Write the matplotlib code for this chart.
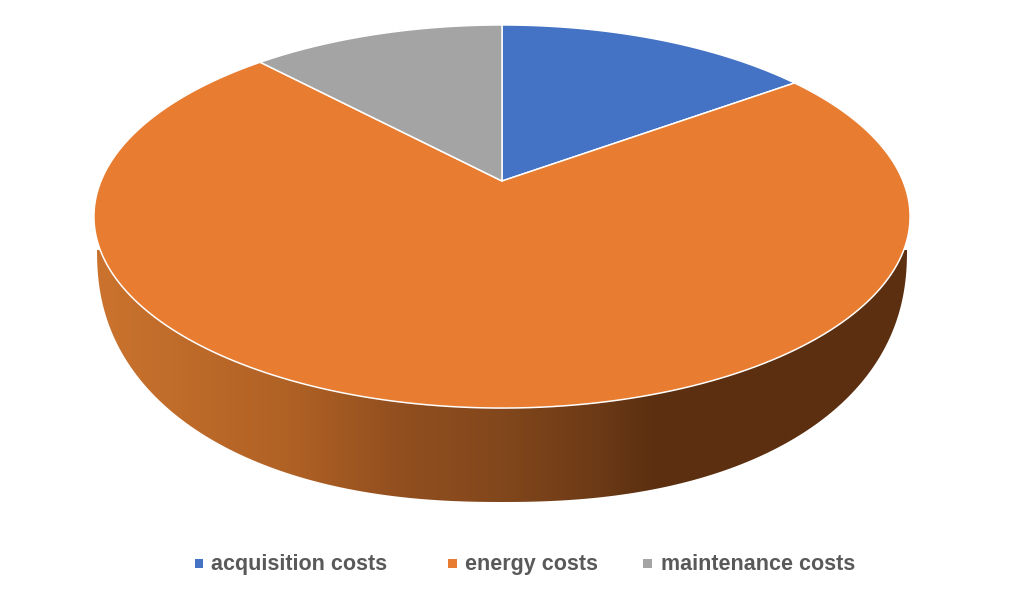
"""3D 饼图复刻：成本构成（透视椭圆 + 侧面渐变）"""

import numpy as np
import matplotlib

matplotlib.use("Agg")
import matplotlib.pyplot as plt
from matplotlib.colors import LinearSegmentedColormap
from matplotlib.patches import Polygon, Rectangle

categories = ["acquisition costs", "energy costs", "maintenance costs"]
shares = [15, 73, 12]
colors = ["#4472C4", "#E87C30", "#A4A4A4"]

# 图例位置（像素）：色块左边、文字左边
legend_box_x = [194.5, 448, 643]
legend_text_x = [211, 465, 661]

plt.rcParams["font.family"] = ["Liberation Sans", "DejaVu Sans"]

# 透视参数：单位圆 -> 屏幕椭圆，圆心落在 (502, 181)
CX, CY = 502.0, 181.0
E = 0.1854
D = -151.4
F = 401.0


def project(theta):
    """theta 从正上方顺时针，弧度"""
    u = np.sin(theta)
    v = np.cos(theta)
    w = 1.0 + E * v
    return CX + F * u / w, (CY + D * v) / w


fig = plt.figure(figsize=(10.24, 6.0), dpi=100)
ax = fig.add_axes([0, 0, 1, 1])

# 侧面：下沿用超椭圆拟合（n=2.25），比普通椭圆更贴近原图
t = np.linspace(np.pi, 0, 400)
side_x = 502 + 405 * np.sign(np.cos(t)) * np.abs(np.cos(t)) ** (2 / 2.25)
side_y = 250 + 252 * np.abs(np.sin(t)) ** (2 / 2.25)
side_patch = Polygon(np.column_stack([side_x, side_y]), closed=True, facecolor="none", edgecolor="none")
ax.add_patch(side_patch)

side_cmap = LinearSegmentedColormap.from_list(
    "side",
    [
        (0.00, "#CB732E"),
        (0.25, "#AE6024"),
        (0.37, "#924F1F"),
        (0.50, "#82471C"),
        (0.62, "#6C3A16"),
        (0.69, "#5B2F10"),
        (1.00, "#5C2F10"),
    ],
)
grad = np.linspace(0, 1, 512).reshape(1, -1)
im = ax.imshow(grad, cmap=side_cmap, extent=(97, 907, 510, 240), aspect="auto", zorder=1)
im.set_clip_path(side_patch)

# 顶面：按份额切扇区
edges = np.r_[0, np.cumsum(shares)] / np.sum(shares) * 2 * np.pi
for i, color in enumerate(colors):
    arc = np.linspace(edges[i], edges[i + 1], 200)
    xs, ys = project(arc)
    pts = np.column_stack([np.r_[CX, xs], np.r_[CY, ys]])
    ax.add_patch(Polygon(pts, closed=True, facecolor=color, edgecolor="white", linewidth=1.1, joinstyle="round", zorder=2))

# 图例
for name, color, bx, tx in zip(categories, colors, legend_box_x, legend_text_x):
    ax.add_patch(Rectangle((bx, 559), 8.5, 8.5, facecolor=color, edgecolor="none"))
    ax.text(tx, 570, name, fontsize=15.5, fontweight="bold", color="#595959", ha="left", va="baseline")

ax.set_xlim(0, 1024)
ax.set_ylim(600, 0)
ax.axis("off")

fig.savefig("out.png", dpi=100, facecolor="white")
